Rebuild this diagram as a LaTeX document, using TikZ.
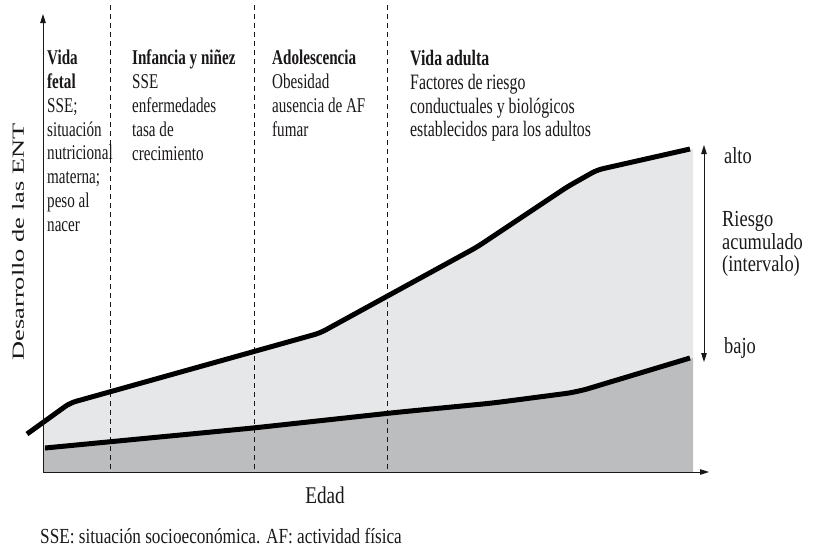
\documentclass[tikz,border=0pt]{standalone}
\usepackage{fontspec}
\usepackage{graphicx}
\setmainfont{Liberation Serif}[FakeStretch=0.84]
\newfontfamily\condfont{Liberation Serif}[FakeStretch=0.72]
\newfontfamily\midfont{Liberation Serif}[FakeStretch=0.8]
\usetikzlibrary{arrows.meta}
\definecolor{lightfill}{HTML}{E6E7E8}
\definecolor{darkfill}{HTML}{BCBDBF}
\definecolor{ink}{HTML}{1A1718}
\tikzset{
  hdr/.style={anchor=north west, inner sep=0pt, align=left, text=ink,
    font=\condfont\fontsize{21}{23.8}\selectfont},
  hdrbig/.style={hdr, font=\condfont\fontsize{22}{23.8}\selectfont},
  rlab/.style={anchor=west, inner sep=0pt, align=left, text=ink,
    font=\midfont\fontsize{23}{22.5}\selectfont},
  axis/.style={line width=1pt, draw=ink, -{Triangle[length=9pt,width=5.5pt]}},
  sep/.style={line width=0.9pt, draw=ink, dash pattern=on 5pt off 4pt},
  curve/.style={line width=5pt, draw=black, line join=round},
  riskarrow/.style={line width=1pt, draw=ink,
    {Triangle[length=9pt,width=5.5pt]}-{Triangle[length=9pt,width=5.5pt]}}
}
\begin{document}
\begin{tikzpicture}[x=1pt,y=-1pt]
\useasboundingbox (0,0) rectangle (820,547);
% fills
\fill[lightfill] (43,422.5) -- (70,403) -- (320,333) -- (477,247) -- (567,187)
  -- (597,170) -- (693,149) -- (693,358) -- (577,392) -- (493,403) -- (400,412)
  -- (253,428) -- (43,448) -- cycle;
\fill[darkfill] (43,448) -- (253,428) -- (400,412) -- (493,403) -- (577,392)
  -- (693,358) -- (693,472) -- (43,472) -- cycle;
% separators
\coordinate (s1t) at (110,5);  \coordinate (s1b) at (110,472);
\coordinate (s2t) at (254,5);  \coordinate (s2b) at (254,472);
\coordinate (s3t) at (387,5);  \coordinate (s3b) at (387,472);
\draw[sep] (s1t) -- (s1b);
\draw[sep] (s2t) -- (s2b);
\draw[sep] (s3t) -- (s3b);
% curves
\draw[curve, rounded corners=6pt] (27,434) -- (70,403) -- (320,333) -- (477,247)
  -- (567,187) -- (597,170) -- (690,149);
\draw[curve, rounded corners=12pt] (45,448) -- (253,428) -- (400,412) -- (493,403)
  -- (577,392) -- (690,358);
% axes
\coordinate (origin) at (43,472);
\coordinate (ytip) at (43,14);
\coordinate (xtip) at (709,472);
\draw[axis] (origin) -- (ytip);
\draw[axis] (origin) -- (xtip);
% risk arrow
\coordinate (rtop) at (704,145);
\coordinate (rbot) at (704,362);
\draw[riskarrow] (rtop) -- (rbot);
% headers
\node[hdr] (fetal) at (47,50) {\textbf{Vida}\\\textbf{fetal}\\SSE;\\situación\\nutricional\\materna;\\peso al\\nacer};
\node[hdr] (infancia) at (132,50) {\textbf{Infancia y niñez}\\SSE\\enfermedades\\tasa de\\crecimiento};
\node[hdr] (adol) at (272,50) {\textbf{Adolescencia}\\Obesidad\\ausencia de AF\\fumar};
\node[hdrbig] (adulta) at (410,50) {\textbf{Vida adulta}\\Factores de riesgo\\conductuales y biológicos\\establecidos para los adultos};
% right labels
\node[rlab] (alto) at (724,156) {alto};
\node[rlab] (riesgo) at (722,244) {Riesgo\\acumulado\\(intervalo)};
\node[rlab] (bajo) at (724,348) {bajo};
% axis labels
\node[text=ink, inner sep=0pt, rotate=90] (ylab) at (18,242)
  {\resizebox{237pt}{\height}{\fontsize{17}{17}\selectfont Desarrollo de las ENT}};
\node[text=ink, inner sep=0pt, font=\midfont\fontsize{24}{24}\selectfont] (edad) at (325,495) {Edad};
\node[text=ink, inner sep=0pt, anchor=west, font=\midfont\fontsize{21.5}{21.5}\selectfont] (nota) at (40,536)
  {SSE: situación socioeconómica. AF: actividad física};
\end{tikzpicture}
\end{document}
